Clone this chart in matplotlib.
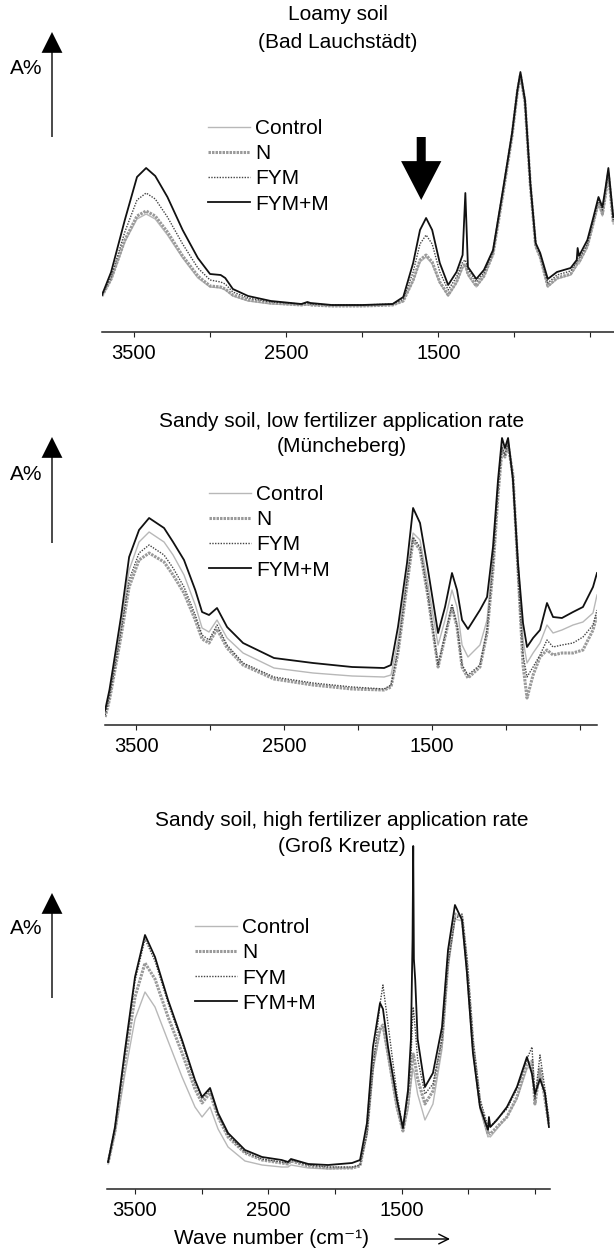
import matplotlib
matplotlib.use("Agg")
import matplotlib.pyplot as plt
from matplotlib.lines import Line2D

plt.rcParams["font.family"] = ["Liberation Sans", "DejaVu Sans"]

W, H = 614, 1255

names = ["Control", "N", "FYM", "FYM+M"]

# ---- Loamy soil (Bad Lauchstaedt) ----
loam_wn = [3710, 3650, 3560, 3480, 3420, 3360, 3280, 3180, 3080, 3000,
           2930, 2900, 2850, 2750, 2600, 2400, 2360, 2340, 2200, 2000,
           1800, 1730, 1665, 1620, 1580, 1540, 1490, 1435, 1380, 1340,
           1322, 1305, 1250, 1200, 1140, 1075, 1015, 980, 960, 930,
           895, 860, 830, 780, 720, 630, 590, 584, 575, 520,
           480, 447, 421, 400, 382, 350]
loam_control = [36, 52, 90, 113, 118, 113, 97, 74, 54, 45,
                44, 42, 36, 31, 28, 27, 27, 27, 26, 26,
                27, 31, 51, 70, 75, 68, 49, 36, 49, 64,
                66, 57, 45, 55, 77, 137, 195, 238, 255, 228,
                146, 85, 74, 45, 53, 57, 66, 69, 68, 85,
                108, 128, 116, 136, 156, 108]
loam_n = [36, 53, 92, 116, 121, 116, 100, 76, 56, 46,
          45, 43, 37, 32, 29, 27, 28, 27, 26, 26,
          27, 31, 52, 72, 77, 70, 50, 37, 50, 66,
          68, 58, 46, 56, 78, 138, 196, 240, 257, 230,
          147, 86, 75, 46, 54, 58, 68, 71, 70, 86,
          110, 130, 118, 138, 158, 110]
loam_fym = [37, 55, 100, 132, 139, 133, 115, 88, 64, 52,
            50, 48, 40, 34, 30, 28, 29, 28, 27, 27,
            28, 33, 60, 88, 97, 88, 60, 42, 55, 70,
            72, 63, 50, 59, 80, 140, 198, 241, 258, 230,
            148, 88, 77, 49, 57, 61, 70, 74, 73, 88,
            112, 132, 122, 142, 160, 112]
loam_fymm = [37, 60, 112, 155, 164, 156, 135, 102, 74, 58,
             57, 54, 43, 36, 31, 28, 30, 29, 27, 27,
             28, 35, 69, 102, 114, 102, 69, 47, 60, 77,
             139, 65, 53, 62, 82, 142, 199, 242, 260, 232,
             149, 89, 79, 53, 60, 64, 72, 84, 76, 92,
             115, 135, 125, 145, 164, 115]

# ---- Sandy soil, low rate (Muencheberg) ----
low_wn = [3709, 3680, 3655, 3600, 3547, 3480, 3412, 3311, 3250, 3176,
          3100, 3054, 3007, 2953, 2885, 2777, 2568, 2304, 2040, 1824,
          1777, 1730, 1669, 1628, 1581, 1527, 1459, 1412, 1365, 1331,
          1297, 1257, 1176, 1128, 1088, 1054, 1027, 1007, 986, 953,
          919, 885, 858, 817, 770, 723, 682, 622, 547, 480,
          412, 385]
low_control = [12, 30, 52, 100, 155, 183, 193, 183, 170, 150,
               120, 97, 93, 105, 87, 72, 57, 52, 49, 48,
               50, 85, 150, 192, 185, 140, 80, 105, 135, 118,
               80, 68, 80, 105, 170, 240, 280, 275, 285, 250,
               160, 85, 62, 72, 82, 100, 92, 95, 100, 103,
               112, 130]
low_n = [8, 25, 45, 90, 138, 165, 172, 163, 150, 132,
         105, 86, 82, 96, 77, 60, 46, 40, 36, 35,
         38, 72, 140, 185, 175, 128, 58, 88, 118, 98,
         58, 47, 58, 92, 155, 230, 275, 268, 280, 250,
         155, 60, 27, 50, 68, 75, 70, 72, 72, 75,
         95, 110]
low_fym = [10, 28, 48, 95, 145, 172, 180, 170, 157, 138,
           110, 90, 85, 100, 80, 62, 48, 42, 38, 36,
           40, 75, 145, 188, 178, 130, 60, 90, 120, 100,
           60, 50, 60, 95, 160, 235, 278, 270, 282, 248,
           150, 70, 48, 58, 70, 85, 78, 80, 82, 88,
           100, 115]
low_fymm = [15, 35, 58, 110, 168, 195, 207, 197, 183, 165,
            135, 113, 110, 117, 98, 82, 67, 62, 58, 57,
            60, 98, 162, 217, 202, 155, 92, 118, 152, 135,
            105, 96, 115, 128, 178, 245, 287, 277, 287, 245,
            162, 102, 78, 87, 95, 122, 108, 107, 113, 118,
            138, 152]

# ---- Sandy soil, high rate (Gross Kreutz) ----
high_wn = [3702, 3650, 3575, 3500, 3425, 3350, 3252, 3147, 3050, 2997,
           2937, 2877, 2802, 2675, 2547, 2400, 2352, 2330, 2200, 2052,
           1872, 1812, 1760, 1715, 1662, 1640, 1602, 1535, 1490, 1452,
           1430, 1418, 1413, 1408, 1398, 1380, 1325, 1265, 1197, 1152,
           1100, 1047, 1010, 965, 912, 852, 845, 835, 785, 710,
           635, 560, 522, 500, 462, 425, 395]
high_control = [25, 55, 115, 170, 197, 182, 148, 112, 82, 72,
                82, 60, 42, 28, 24, 22, 22, 24, 21, 20,
                21, 24, 55, 118, 158, 162, 132, 80, 58, 80,
                105, 118, 120, 118, 110, 95, 69, 85, 140, 220,
                270, 268, 222, 140, 80, 52, 53, 52, 60, 72,
                90, 120, 125, 90, 118, 92, 68]
high_n = [26, 58, 128, 192, 226, 210, 172, 136, 100, 86,
          96, 72, 52, 36, 29, 26, 25, 28, 23, 21,
          21, 23, 58, 125, 160, 164, 135, 82, 58, 85,
          115, 130, 135, 132, 125, 110, 85, 98, 148, 228,
          275, 272, 225, 145, 85, 55, 56, 55, 62, 72,
          92, 125, 128, 85, 120, 90, 65]
high_fym = [27, 60, 136, 208, 250, 228, 186, 146, 106, 90,
            99, 74, 54, 37, 30, 27, 26, 29, 24, 22,
            22, 24, 55, 120, 185, 204, 165, 95, 60, 95,
            130, 170, 182, 175, 160, 130, 95, 105, 150, 225,
            270, 275, 230, 150, 90, 62, 63, 62, 70, 80,
            100, 130, 142, 90, 134, 100, 70]
high_fymm = [27, 62, 139, 212, 254, 232, 189, 149, 109, 92,
             101, 76, 56, 39, 32, 29, 27, 30, 25, 24,
             26, 29, 66, 142, 186, 180, 142, 89, 61, 99,
             150, 250, 343, 230, 209, 150, 102, 116, 162, 239,
             284, 269, 216, 136, 82, 59, 72, 62, 69, 82,
             102, 132, 115, 95, 110, 96, 62]

tick_pos = [3500, 3000, 2500, 2000, 1500, 1000, 500]
tick_lab = ["3500", "", "2500", "", "1500", "", ""]

styles = {
    "Control": dict(color="#b8b8b8", lw=1.0, ls="-"),
    "N": dict(color="#9a9a9a", lw=2.2, ls=(0, (0.8, 0.35))),
    "FYM": dict(color="#444444", lw=1.0, ls=(0, (1, 1))),
    "FYM+M": dict(color="#111111", lw=1.3, ls="-"),
}


def fx(x):
    return x / W


def fy(y):
    return 1 - y / H


fig = plt.figure(figsize=(W / 100, H / 100), dpi=100)


def panel(box, xlim, ytop, wn, curves, titles, title_x, title_y, leg, arrow_y):
    left, right, top, bottom = box
    ax = fig.add_axes([fx(left), fy(bottom), fx(right - left), (bottom - top) / H])
    for name, vals in zip(names, curves):
        ax.plot(wn, vals, **styles[name])
    ax.set_xlim(*xlim)
    ax.set_ylim(0, ytop)
    for s in ["left", "right", "top"]:
        ax.spines[s].set_visible(False)
    ax.spines["bottom"].set_linewidth(1.1)
    ax.spines["bottom"].set_color("#222222")
    ax.set_yticks([])
    ax.set_xticks(tick_pos)
    ax.set_xticklabels(tick_lab)
    ax.tick_params(axis="x", direction="out", length=3.6, width=0.8,
                   labelsize=14.5, pad=5, color="#222222")
    ax.patch.set_alpha(0)

    handles = [Line2D([], [], **styles[n]) for n in names]
    hx, htop = leg
    ax.legend(handles, names, loc="upper left", bbox_to_anchor=(fx(hx), fy(htop)),
              bbox_transform=fig.transFigure, frameon=False, borderpad=0,
              borderaxespad=0, handlelength=2.0, handletextpad=0.25,
              labelspacing=0.3, fontsize=15)

    for t, ty in zip(titles, title_y):
        fig.text(fx(title_x), fy(ty), t, ha="center", va="center", fontsize=15)

    tip, tail, label_y = arrow_y
    ax.annotate("", xy=(52, H - tip), xytext=(52, H - tail),
                xycoords="figure pixels", textcoords="figure pixels",
                arrowprops=dict(width=1.0, headwidth=15, headlength=15,
                                facecolor="k", edgecolor="k", lw=0))
    fig.text(fx(26), fy(label_y), "A%", ha="center", va="center", fontsize=15)
    return ax


ax1 = panel((102, 614, 42, 332), (3710, 345), 290, loam_wn,
            [loam_control, loam_n, loam_fym, loam_fymm],
            ["Loamy soil", "(Bad Lauchstädt)"], 338, [15, 42],
            (208, 119), (32, 137, 69))
# marker arrow at the carboxyl band
ax1.annotate("", xy=(1612, 132), xytext=(1612, 195),
             arrowprops=dict(width=6.5, headwidth=29, headlength=28,
                             facecolor="k", edgecolor="k", lw=0))

ax2 = panel((105, 597, 425, 725), (3710, 385), 300, low_wn,
            [low_control, low_n, low_fym, low_fymm],
            ["Sandy soil, low fertilizer application rate", "(Müncheberg)"],
            342, [421, 447], (209, 485), (437, 543, 475))

ax3 = panel((107, 550, 839, 1189), (3710, 387), 350, high_wn,
            [high_control, high_n, high_fym, high_fymm],
            ["Sandy soil, high fertilizer application rate", "(Groß Kreutz)"],
            342, [820, 846], (195, 918), (893, 998, 928))

fig.text(fx(271), fy(1239), "Wave number (cm⁻¹)", ha="center", va="center", fontsize=15)
ax3.annotate("", xy=(450, H - 1239), xytext=(395, H - 1239),
             xycoords="figure pixels", textcoords="figure pixels",
             arrowprops=dict(arrowstyle="->,head_length=0.7,head_width=0.35",
                             lw=1.0, color="k", shrinkA=0, shrinkB=0))

fig.savefig("out.png", dpi=100, facecolor="white")
